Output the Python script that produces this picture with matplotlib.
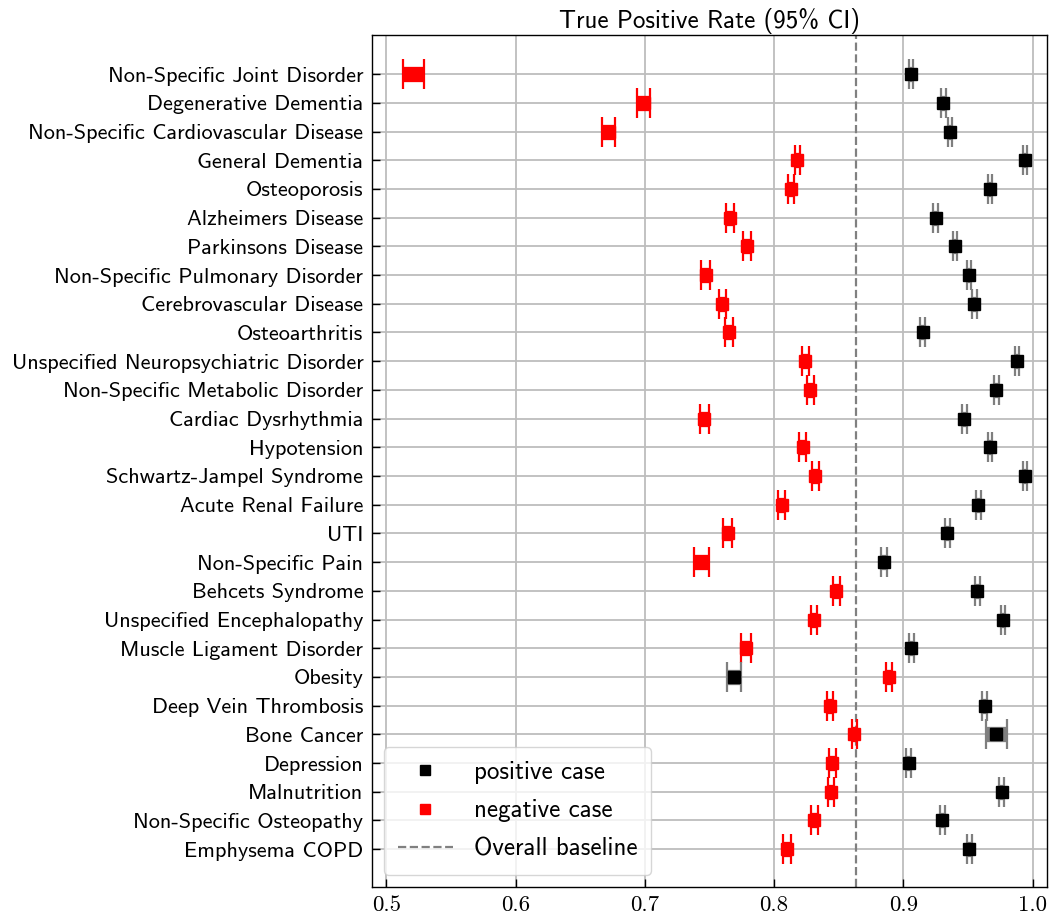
import matplotlib
matplotlib.use("Agg")
import matplotlib.pyplot as plt
from matplotlib.lines import Line2D
import numpy as np

conditions = [
    "Non-Specific Joint Disorder", "Degenerative Dementia",
    "Non-Specific Cardiovascular Disease", "General Dementia", "Osteoporosis",
    "Alzheimers Disease", "Parkinsons Disease", "Non-Specific Pulmonary Disorder",
    "Cerebrovascular Disease", "Osteoarthritis",
    "Unspecified Neuropsychiatric Disorder", "Non-Specific Metabolic Disorder",
    "Cardiac Dysrhythmia", "Hypotension", "Schwartz-Jampel Syndrome",
    "Acute Renal Failure", "UTI", "Non-Specific Pain", "Behcets Syndrome",
    "Unspecified Encephalopathy", "Muscle Ligament Disorder", "Obesity",
    "Deep Vein Thrombosis", "Bone Cancer", "Depression", "Malnutrition",
    "Non-Specific Osteopathy", "Emphysema COPD",
]

# true positive rate on positive cases, with 95% CI half-widths
pos_tpr = [0.906, 0.931, 0.936, 0.994, 0.967, 0.925, 0.940, 0.951, 0.955,
           0.915, 0.988, 0.972, 0.947, 0.967, 0.994, 0.958, 0.934, 0.885,
           0.957, 0.977, 0.906, 0.769, 0.963, 0.972, 0.904, 0.976, 0.930, 0.951]
pos_ci = [0.0016, 0.0017, 0.0017, 0.0016, 0.0017, 0.0018, 0.0018, 0.0017,
          0.0017, 0.0019, 0.0018, 0.0018, 0.0019, 0.0018, 0.0017, 0.0018,
          0.0019, 0.0020, 0.0019, 0.0017, 0.0019, 0.0054, 0.0020, 0.0082,
          0.0021, 0.0019, 0.0020, 0.0020]

# true positive rate on negative cases
neg_tpr = [0.521, 0.699, 0.672, 0.818, 0.813, 0.766, 0.779, 0.747, 0.760,
           0.765, 0.824, 0.828, 0.746, 0.822, 0.832, 0.806, 0.764, 0.744,
           0.848, 0.831, 0.778, 0.889, 0.843, 0.862, 0.845, 0.844, 0.831, 0.810]
neg_ci = [0.0080, 0.0047, 0.0050, 0.0022, 0.0024, 0.0031, 0.0031, 0.0035,
          0.0029, 0.0033, 0.0028, 0.0026, 0.0037, 0.0025, 0.0025, 0.0028,
          0.0034, 0.0060, 0.0026, 0.0024, 0.0039, 0.0024, 0.0022, 0.0019,
          0.0025, 0.0022, 0.0026, 0.0031]

baseline = 0.8633

y = np.arange(len(conditions))

fig = plt.figure(figsize=(10.5, 9.17), dpi=100)
ax = fig.add_axes([0.354, 0.0327, 0.643, 0.929])

ax.grid(True, color="#bdbdbd", linewidth=1.3, zorder=0)
ax.set_axisbelow(True)

ax.errorbar(neg_tpr, y, xerr=neg_ci, fmt="s", color="red", ecolor="red",
            markersize=8, elinewidth=11, capsize=11, capthick=1.6, zorder=3)
ax.errorbar(pos_tpr, y, xerr=pos_ci, fmt="s", color="black", ecolor="#7f7f7f",
            markersize=8, elinewidth=11, capsize=11, capthick=1.6, zorder=3)

ax.axvline(baseline, color="#808080", linestyle="--", linewidth=1.6, zorder=2)

ax.set_yticks(y)
ax.set_yticklabels(conditions, fontfamily="cmss10", fontsize=16)
ax.set_ylim(28.32, -1.36)
ax.set_xlim(0.4887, 1.011)
ax.set_xticks([0.5, 0.6, 0.7, 0.8, 0.9, 1.0])
ax.set_xticklabels(["0.5", "0.6", "0.7", "0.8", "0.9", "1.0"],
                   fontfamily="cmr10", fontsize=16.5)
ax.tick_params(axis="both", direction="in", length=6, width=1)
ax.tick_params(axis="y", pad=6)
ax.tick_params(axis="x", pad=6)
for s in ax.spines.values():
    s.set_linewidth(1.0)

ax.set_title("True Positive Rate (95% CI)", fontfamily="cmss10", fontsize=18,
             pad=5)

handles = [
    Line2D([], [], marker="s", color="black", linestyle="none", markersize=7),
    Line2D([], [], marker="s", color="red", linestyle="none", markersize=7),
    Line2D([], [], color="#808080", linestyle="--", linewidth=1.6),
]
ax.legend(handles, ["positive case", "negative case", "Overall baseline"],
          loc="lower left", prop={"family": "cmss10", "size": 18},
          borderpad=0.55, labelspacing=0.62, handlelength=2.2, handletextpad=0.85,
          bbox_to_anchor=(0.0, 0.0))

fig.savefig("out.png", dpi=100)
